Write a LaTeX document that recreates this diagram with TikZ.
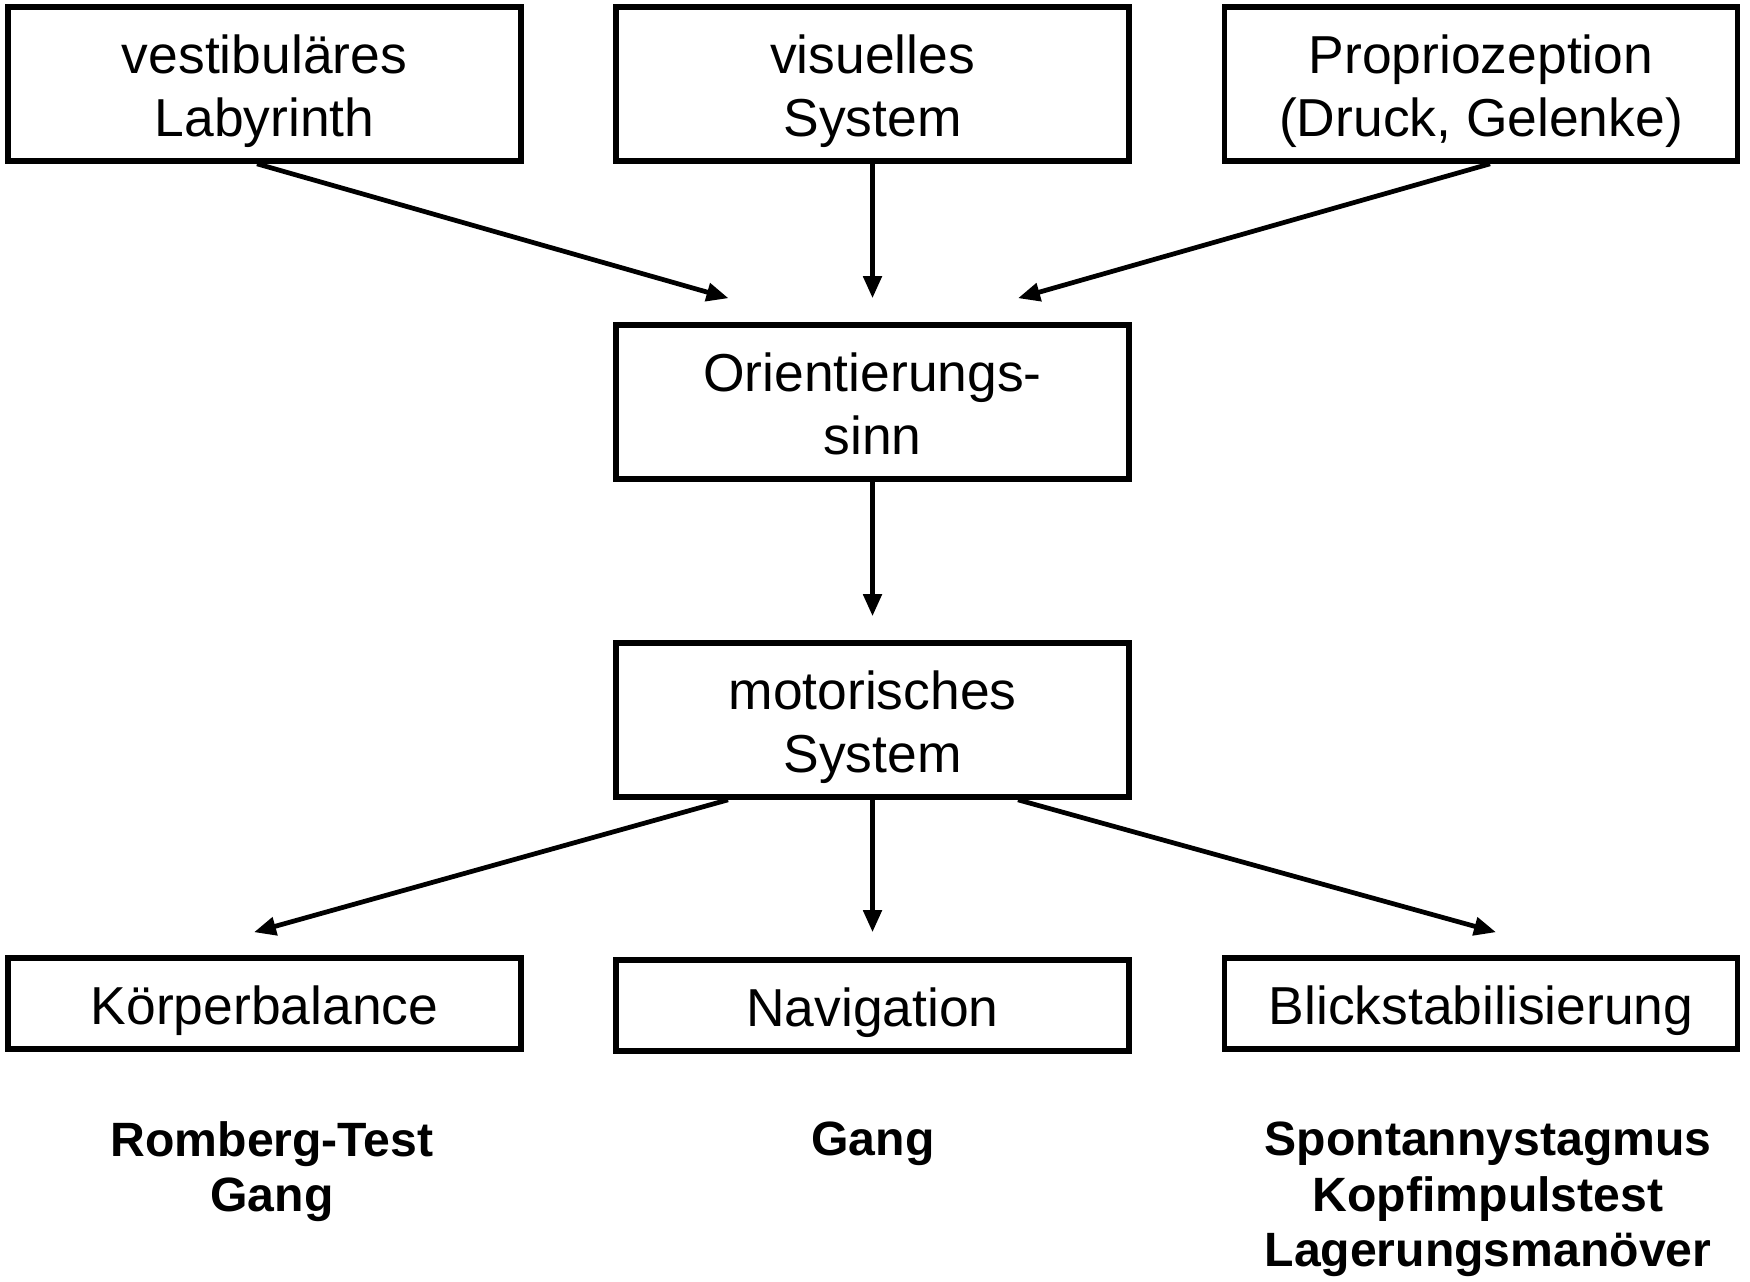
\documentclass[tikz,border=0pt]{standalone}
\usepackage{fontspec}
\setmainfont{Liberation Sans}
\usepackage{tikz}
\usetikzlibrary{arrows.meta, positioning, calc}
\tikzset{
  block/.style={rectangle, draw=black, fill=white, align=center,
    minimum width=5.13cm, minimum height=1.54cm, inner sep=0pt,
    font=\fontsize{15.2}{18}\selectfont, line width=1.6pt,
    text height=32.8pt, text depth=3pt},
  flatblock/.style={block, minimum height=0.91cm, text height=14.8pt},
  testtext/.style={align=center, font=\fontsize{13.7}{15.8}\selectfont\bfseries},
  arrow/.style={-{Triangle[length=2.2mm, width=1.8mm]}, line width=1.35pt, color=black}
}

\begin{document}
\begin{tikzpicture}
    \useasboundingbox (0,0) rectangle (17.5,-12.81);

    % Sensory inputs
    \node[block] (vest) at (2.645, -0.84) {vestibuläres\\Labyrinth};
    \node[block] (vis) at (8.725, -0.84) {visuelles\\System};
    \node[block] (prop) at (14.81, -0.84) {Propriozeption\\(Druck, Gelenke)};

    % Central processing
    \node[block] (orient) at (8.725, -4.02) {Orientierungs-\\sinn};
    \node[block] (motor) at (8.725, -7.20) {motorisches\\System};

    % Functions
    \node[flatblock] (kb) at (2.645, -10.035) {Körperbalance};
    \node[flatblock] (nav) at (8.725, -10.055) {Navigation};
    \node[flatblock] (blick) at (14.81, -10.035) {Blickstabilisierung};

    % Tests
    \node[testtext] (tkb) at (2.72, -11.715) {Romberg-Test\\Gang};
    \node[testtext] (tnav) at (8.73, -11.435) {Gang};
    \node[testtext] (tblick) at (14.88, -11.995) {Spontannystagmus\\Kopfimpulstest\\Lagerungsmanöver};

    % Arrow ends
    \coordinate (inL) at ($(orient.north)+(-1.44,0.24)$);
    \coordinate (inM) at ($(orient.north)+(0,0.24)$);
    \coordinate (inR) at ($(orient.north)+(1.455,0.24)$);
    \coordinate (outL) at ($(motor.south)+(-1.445,0)$);
    \coordinate (outR) at ($(motor.south)+(1.455,0)$);
    \coordinate (toL) at ($(kb.north)+(-0.105,0.23)$);
    \coordinate (toM) at ($(nav.north)+(0,0.25)$);
    \coordinate (toR) at ($(blick.north)+(0.15,0.23)$);

    \draw[arrow] ($(vest.south)+(-0.075,0)$) -- (inL);
    \draw[arrow] (vis) -- (inM);
    \draw[arrow] ($(prop.south)+(0.09,0)$) -- (inR);
    \draw[arrow] (orient) -- ($(motor.north)+(0,0.24)$);
    \draw[arrow] (outL) -- (toL);
    \draw[arrow] (motor) -- (toM);
    \draw[arrow] (outR) -- (toR);
\end{tikzpicture}
\end{document}
